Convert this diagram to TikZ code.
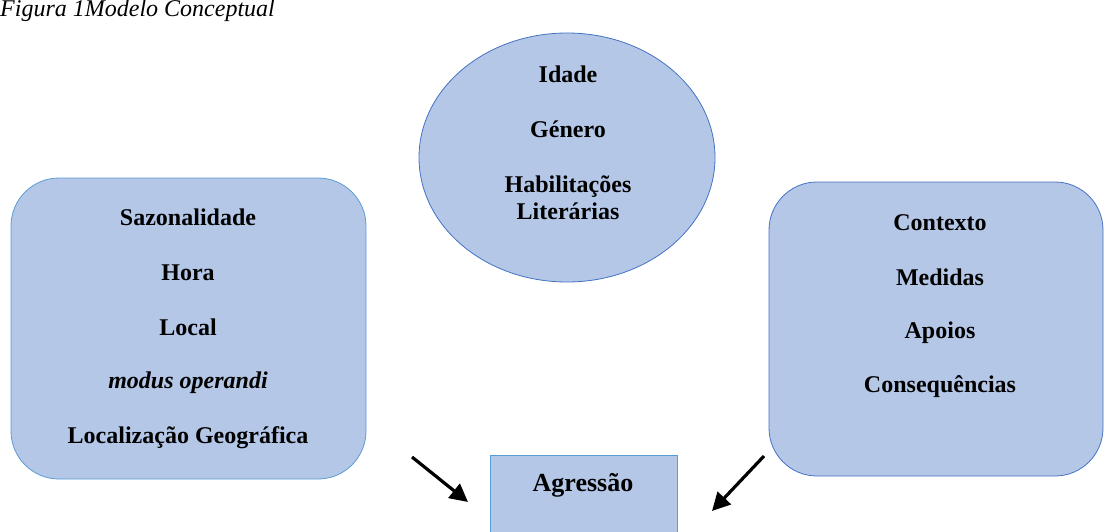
\documentclass[tikz,border=0pt]{standalone}
\usepackage{fontspec}
\setmainfont{Liberation Serif}
\usetikzlibrary{shapes.geometric,arrows.meta}
\definecolor{panelfill}{HTML}{B4C7E7}
\definecolor{panelline}{HTML}{4472C4}
\definecolor{panellight}{HTML}{5B9BD5}

\begin{document}
\begin{tikzpicture}[x=1pt,y=-1pt,
                    panel/.style = {shape = rectangle,
                                    rounded corners = 48pt,
                                    fill = panelfill,
                                    draw = panelline,
                                    line width = 0.8pt,
                                    inner sep = 0pt},
                    item/.style = {font=\fontsize{24}{27}\selectfont\bfseries,
                                   inner sep=0pt,
                                   anchor=base},
                    pointer/.style = {line width=3.2pt,
                                      -{Triangle[length=18pt,width=18pt]}}]
		\useasboundingbox (0,0) rectangle (1105,532);
		\clip (0,0) rectangle (1105,532);
		% caption
		\node[font=\fontsize{24}{27}\selectfont\itshape, inner sep=0pt, anchor=base west] (caption) at (0,17) {Figura 1Modelo Conceptual};
		% shapes
		\node[panel, draw=panellight, minimum width=355pt, minimum height=301pt] (crime) at (188.5,328.5) {};
		\node[panel, minimum width=334pt, minimum height=294pt] (context) at (936,329) {};
		\node[panel, shape=ellipse, rounded corners=0pt, minimum width=296pt, minimum height=249pt] (victim) at (567,157.5) {};
		\node[panel, draw=panellight, rounded corners=0pt, minimum width=187pt, minimum height=110pt] (aggr) at (583.5,510) {};
		% texts
		\foreach \txt/\y [count=\i] in {Sazonalidade/225, Hora/280, Local/335, {\textit{modus operandi}}/388, {Localização Geográfica}/443}
			\node[item] (crime-\i) at (188,\y) {\txt};
		\foreach \txt/\y [count=\i] in {Contexto/230, Medidas/285, Apoios/338, Consequências/392}
			\node[item] (context-\i) at (940,\y) {\txt};
		\foreach \txt/\y [count=\i] in {Idade/83, Género/137, Habilitações/192, Literárias/219}
			\node[item] (victim-\i) at (568,\y) {\txt};
		\node[item, font=\fontsize{26}{30}\selectfont\bfseries] (aggr-1) at (583,491) {Agressão};
		% arrows
		\coordinate (l-start) at (412,457);
		\coordinate (l-end) at (468,502);
		\coordinate (r-start) at (764,456);
		\coordinate (r-end) at (712,511);
		\draw[pointer] (l-start) -- (l-end);
		\draw[pointer] (r-start) -- (r-end);
	\end{tikzpicture}
\end{document}
